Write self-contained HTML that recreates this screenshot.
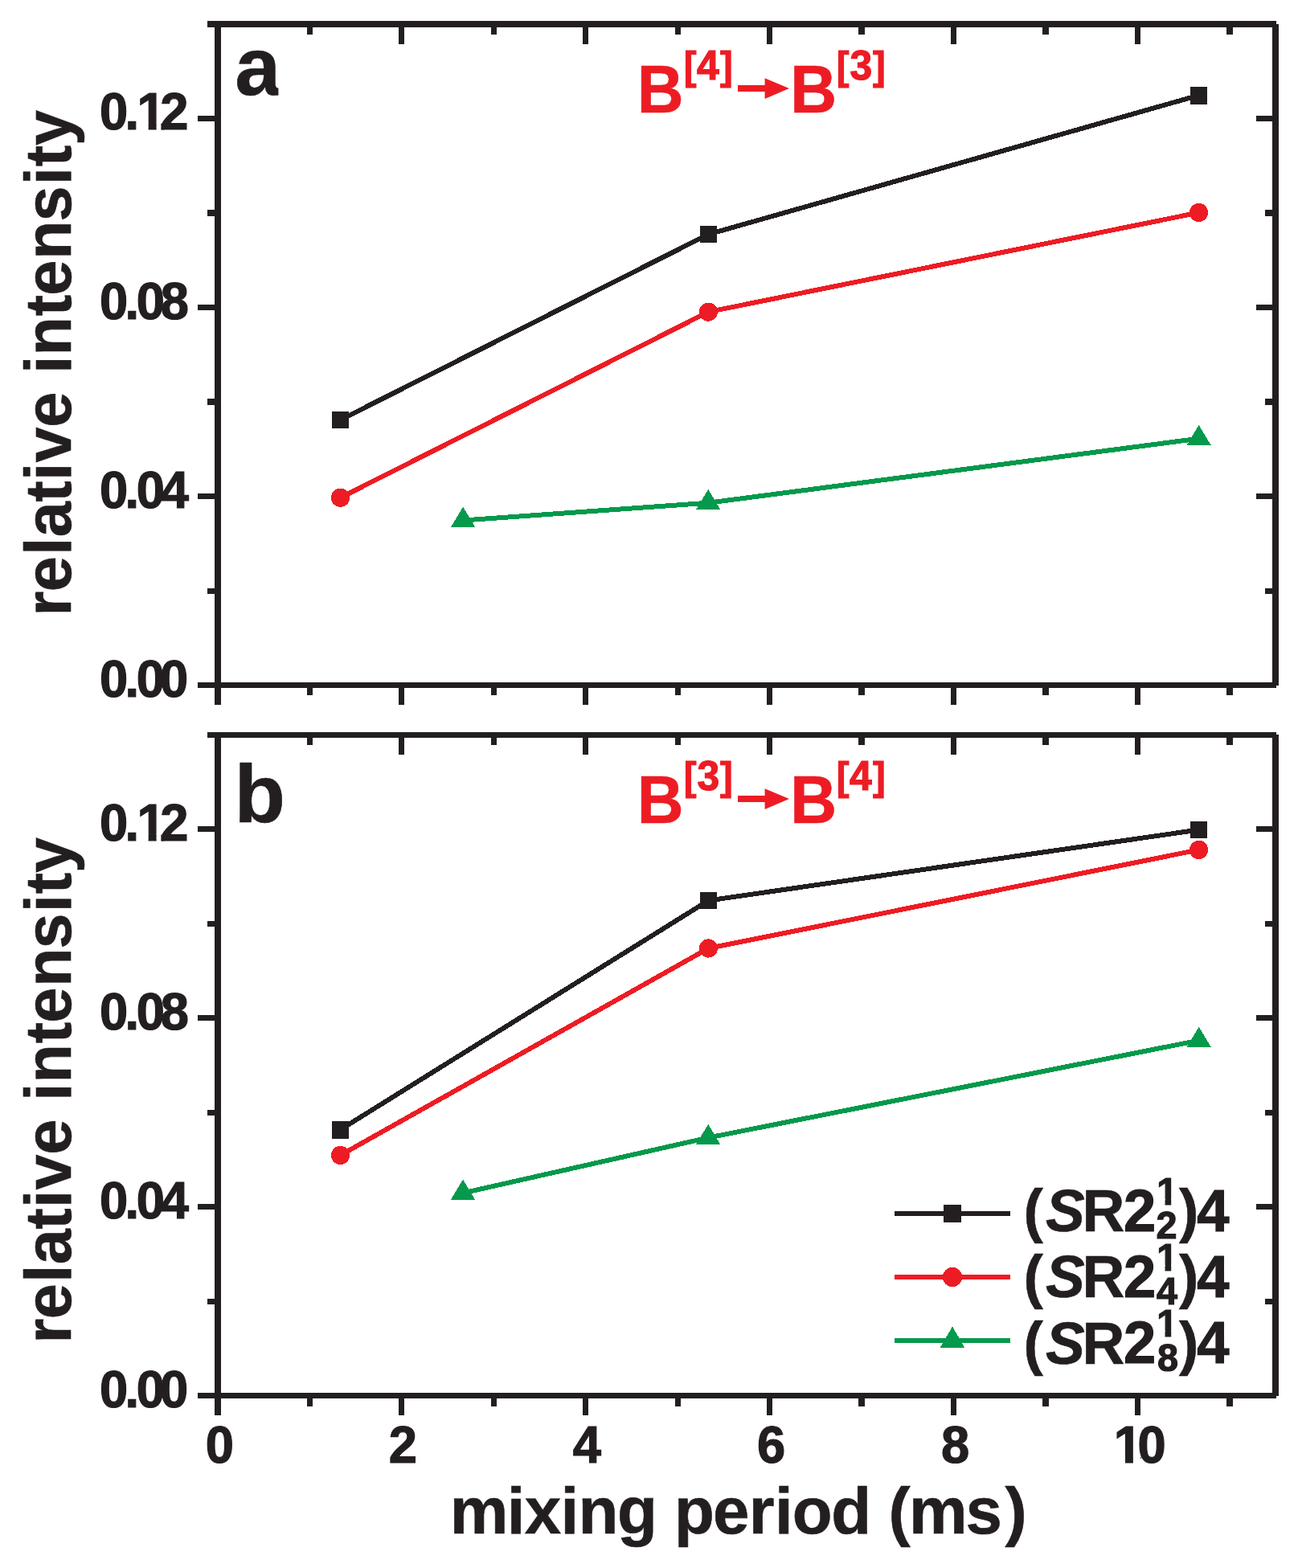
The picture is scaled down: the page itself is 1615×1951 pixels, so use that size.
<!DOCTYPE html>
<html lang="en">
<head>
<meta charset="utf-8">
<title>Relative intensity vs mixing period</title>
<style>
html,body{margin:0;padding:0;background:#fff}
body{width:1615px;height:1951px;overflow:hidden}
svg{display:block}
text{font-family:"Liberation Sans",Arial,Helvetica,sans-serif;font-weight:bold}
</style>
</head>
<body>
<svg width="1615" height="1951" viewBox="0 0 1615 1951" fill="#231F20">
<defs>
<clipPath id="c1"><path clip-rule="evenodd" d="M-3000 -3000H3000V3000H-3000ZM172.4 -8.86H184.69V1.5H172.4ZM194.57 -8.86H200.4V1.5H194.57Z"/></clipPath>
<clipPath id="c2"><path clip-rule="evenodd" d="M-3000 -3000H3000V3000H-3000ZM1418.9 -6.64L1420 -5.37L1420 2.34L1418.9 2.34ZM1387.7 -8.86H1399.99V1.5H1387.7ZM1409.87 -8.86H1418.9V1.5H1409.87Z"/></clipPath>
<clipPath id="c3"><path clip-rule="evenodd" d="M-3000 -3000H3000V3000H-3000ZM1440.1 -39.89H1449.57V-31.21H1440.1ZM1457.19 -39.89H1466.07V-31.21H1457.19Z"/></clipPath>
<clipPath id="r1"><rect x="290" y="58" width="56.4" height="66"/></clipPath>
<clipPath id="r2"><rect x="918" y="80.5" width="67" height="60"/></clipPath>
<clipPath id="r3"><rect x="918" y="964.5" width="67" height="60"/></clipPath>
</defs>
<rect width="1615" height="1951" fill="#fff"/>
<g id="panel-a">
<g id="series-a-sq" fill="#231F20" shape-rendering="crispEdges">
<polyline points="423.5,522.5 881.5,291.5 1491.5,118.6" fill="none" stroke="#231F20" stroke-width="6" stroke-linejoin="round"/>
<rect x="413" y="512" width="21" height="21"/>
<rect x="871" y="281" width="21" height="21"/>
<rect x="1481" y="108" width="21" height="22"/>
</g>
<g id="series-a-ci" fill="#ED1C24" shape-rendering="crispEdges">
<polyline points="423.5,619.3 881.4,388.1 1491.6,264.5" fill="none" stroke="#ED1C24" stroke-width="6" stroke-linejoin="round"/>
<circle cx="423.5" cy="619.3" r="11.6"/>
<circle cx="881.4" cy="388.1" r="11.6"/>
<circle cx="1491.6" cy="264.5" r="11.6"/>
</g>
<g id="series-a-tr" fill="#04994C" shape-rendering="crispEdges">
<polyline points="576.1,647.5 881.2,625.7 1491.7,545.7" fill="none" stroke="#04994C" stroke-width="6" stroke-linejoin="round"/>
<polygon points="576.1,630.63 591.3,655.93 560.9,655.93"/>
<polygon points="881.2,608.83 896.4,634.13 866,634.13"/>
<polygon points="1491.7,528.83 1506.9,554.13 1476.5,554.13"/>
</g>
<g id="axes-a" fill="#231F20" shape-rendering="crispEdges">
<rect x="258" y="26" width="1330" height="8"/>
<rect x="246" y="849" width="1342" height="7"/>
<rect x="267" y="26" width="8" height="851"/>
<rect x="1583" y="30" width="8" height="823"/>
<rect x="258" y="732" width="9" height="7"/>
<rect x="1574" y="732" width="9" height="7"/>
<rect x="246" y="614" width="21" height="7"/>
<rect x="1563" y="614" width="20" height="7"/>
<rect x="258" y="496" width="9" height="8"/>
<rect x="1574" y="496" width="9" height="8"/>
<rect x="246" y="379" width="21" height="7"/>
<rect x="1563" y="379" width="20" height="7"/>
<rect x="258" y="261" width="9" height="8"/>
<rect x="1574" y="261" width="9" height="8"/>
<rect x="246" y="144" width="21" height="7"/>
<rect x="1563" y="144" width="20" height="7"/>
<rect x="382" y="34" width="7" height="9"/>
<rect x="382" y="856" width="7" height="9"/>
<rect x="496" y="34" width="7" height="21"/>
<rect x="496" y="856" width="7" height="21"/>
<rect x="611" y="34" width="7" height="9"/>
<rect x="611" y="856" width="7" height="9"/>
<rect x="725" y="34" width="7" height="21"/>
<rect x="725" y="856" width="7" height="21"/>
<rect x="840" y="34" width="7" height="9"/>
<rect x="840" y="856" width="7" height="9"/>
<rect x="954" y="34" width="7" height="21"/>
<rect x="954" y="856" width="7" height="21"/>
<rect x="1068" y="34" width="8" height="9"/>
<rect x="1068" y="856" width="8" height="9"/>
<rect x="1183" y="34" width="7" height="21"/>
<rect x="1183" y="856" width="7" height="21"/>
<rect x="1297" y="34" width="8" height="9"/>
<rect x="1297" y="856" width="8" height="9"/>
<rect x="1412" y="34" width="7" height="21"/>
<rect x="1412" y="856" width="7" height="21"/>
<rect x="1526" y="34" width="8" height="9"/>
<rect x="1526" y="856" width="8" height="9"/>
</g>
<g id="yticks-a">
<text transform="translate(0 162) scale(1 1.024)" x="124.1 155.5 170.51 199.21" y="-0.6" font-size="63.3" stroke="#231F20" stroke-width="1.2" clip-path="url(#c1)">0.12</text>
<text transform="translate(0 397.7) scale(1 1.024)" x="124.1 155.5 169.8 199.69" y="-0.6" font-size="63.3" stroke="#231F20" stroke-width="1.2">0.08</text>
<text transform="translate(0 632.8) scale(1 1.024)" x="124.1 155.5 169.8 199.74" y="-0.6" font-size="63.3" stroke="#231F20" stroke-width="1.2">0.04</text>
<text transform="translate(0 867.9) scale(1 1.024)" x="124.1 155.5 169.8 199" y="-0.6" font-size="63.3" stroke="#231F20" stroke-width="1.2">0.00</text>
</g>
<text transform="translate(87.9 0) rotate(-90) scale(1 1.02)" x="-766.62 -736.19 -690.73 -668.32 -624.67 -598.03 -575.61 -531.79 -487.76 -464.83 -442.52 -393.27 -367.79 -322.82 -275.48 -230.23 -207.37 -181.02" y="-0.3" font-size="79.18" stroke="#231F20" stroke-width="0.6">relative intensity</text>
<g clip-path="url(#r1)"><text transform="translate(292.3 117.71) scale(1.0240 1.0112)" font-size="100" stroke="#231F20" stroke-width="0.59">a</text></g>
<g id="title-a" fill="#ED1C24">
<text transform="translate(0 140) scale(1 1.041)" fill="#ED1C24"><tspan x="792.84" y="-0.3" font-size="80.2" stroke="#ED1C24" stroke-width="0.6">B</tspan><tspan x="850.83" y="-39.6" font-size="47.47" stroke="#ED1C24" stroke-width="1">[</tspan><tspan x="866.95" y="-39.7" font-size="49.82" stroke="#ED1C24" stroke-width="1.2">4</tspan><tspan x="895.92" y="-39.6" font-size="47.47" stroke="#ED1C24" stroke-width="1">]</tspan></text>
<g clip-path="url(#r2)"><text transform="translate(905.58 122.2) scale(0.4419 0.1867)" style="font-family:'DejaVu Sans',sans-serif" font-size="200" stroke="#ED1C24" stroke-width="21.37" stroke-linejoin="miter">➞</text></g>
<text transform="translate(0 140) scale(1 1.041)" fill="#ED1C24"><tspan x="983.14" y="-0.3" font-size="80.2" stroke="#ED1C24" stroke-width="0.6">B</tspan><tspan x="1040.83" y="-39.6" font-size="47.47" stroke="#ED1C24" stroke-width="1">[</tspan><tspan x="1057.46" y="-39.7" font-size="49.82" stroke="#ED1C24" stroke-width="1.2">3</tspan><tspan x="1086.12" y="-39.6" font-size="47.47" stroke="#ED1C24" stroke-width="1">]</tspan></text>
</g>
</g>
<g id="panel-b">
<g id="series-b-sq" fill="#231F20" shape-rendering="crispEdges">
<polyline points="423.5,1405.6 881.5,1120.5 1491.5,1032.5" fill="none" stroke="#231F20" stroke-width="6" stroke-linejoin="round"/>
<rect x="413" y="1395" width="21" height="22"/>
<rect x="871" y="1110" width="21" height="21"/>
<rect x="1481" y="1022" width="21" height="21"/>
</g>
<g id="series-b-ci" fill="#ED1C24" shape-rendering="crispEdges">
<polyline points="423.5,1437.4 881.4,1180 1491.6,1057.4" fill="none" stroke="#ED1C24" stroke-width="6" stroke-linejoin="round"/>
<circle cx="423.5" cy="1437.4" r="11.6"/>
<circle cx="881.4" cy="1180" r="11.6"/>
<circle cx="1491.6" cy="1057.4" r="11.6"/>
</g>
<g id="series-b-tr" fill="#04994C" shape-rendering="crispEdges">
<polyline points="576.1,1484.4 881.2,1415.6 1491.7,1294.6" fill="none" stroke="#04994C" stroke-width="6" stroke-linejoin="round"/>
<polygon points="576.1,1467.53 591.3,1492.83 560.9,1492.83"/>
<polygon points="881.2,1398.73 896.4,1424.03 866,1424.03"/>
<polygon points="1491.7,1277.73 1506.9,1303.03 1476.5,1303.03"/>
</g>
<g id="axes-b" fill="#231F20" shape-rendering="crispEdges">
<rect x="258" y="911" width="1330" height="7"/>
<rect x="246" y="1733" width="1342" height="7"/>
<rect x="267" y="911" width="8" height="850"/>
<rect x="1583" y="914" width="8" height="823"/>
<rect x="258" y="1616" width="9" height="7"/>
<rect x="1574" y="1616" width="9" height="7"/>
<rect x="246" y="1498" width="21" height="7"/>
<rect x="1563" y="1498" width="20" height="7"/>
<rect x="258" y="1381" width="9" height="7"/>
<rect x="1574" y="1381" width="9" height="7"/>
<rect x="246" y="1263" width="21" height="7"/>
<rect x="1563" y="1263" width="20" height="7"/>
<rect x="258" y="1146" width="9" height="7"/>
<rect x="1574" y="1146" width="9" height="7"/>
<rect x="246" y="1028" width="21" height="7"/>
<rect x="1563" y="1028" width="20" height="7"/>
<rect x="382" y="918" width="7" height="9"/>
<rect x="382" y="1740" width="7" height="10"/>
<rect x="496" y="918" width="7" height="21"/>
<rect x="496" y="1740" width="7" height="21"/>
<rect x="611" y="918" width="7" height="9"/>
<rect x="611" y="1740" width="7" height="10"/>
<rect x="725" y="918" width="7" height="21"/>
<rect x="725" y="1740" width="7" height="21"/>
<rect x="840" y="918" width="7" height="9"/>
<rect x="840" y="1740" width="7" height="10"/>
<rect x="954" y="918" width="7" height="21"/>
<rect x="954" y="1740" width="7" height="21"/>
<rect x="1068" y="918" width="8" height="9"/>
<rect x="1068" y="1740" width="8" height="10"/>
<rect x="1183" y="918" width="7" height="21"/>
<rect x="1183" y="1740" width="7" height="21"/>
<rect x="1297" y="918" width="8" height="9"/>
<rect x="1297" y="1740" width="8" height="10"/>
<rect x="1412" y="918" width="7" height="21"/>
<rect x="1412" y="1740" width="7" height="21"/>
<rect x="1526" y="918" width="8" height="9"/>
<rect x="1526" y="1740" width="8" height="10"/>
</g>
<g id="yticks-b">
<text transform="translate(0 1046.7) scale(1 1.024)" x="124.1 155.5 170.51 199.21" y="-0.6" font-size="63.3" stroke="#231F20" stroke-width="1.2" clip-path="url(#c1)">0.12</text>
<text transform="translate(0 1281.8) scale(1 1.024)" x="124.1 155.5 169.8 199.69" y="-0.6" font-size="63.3" stroke="#231F20" stroke-width="1.2">0.08</text>
<text transform="translate(0 1516.9) scale(1 1.024)" x="124.1 155.5 169.8 199.74" y="-0.6" font-size="63.3" stroke="#231F20" stroke-width="1.2">0.04</text>
<text transform="translate(0 1752) scale(1 1.024)" x="124.1 155.5 169.8 199" y="-0.6" font-size="63.3" stroke="#231F20" stroke-width="1.2">0.00</text>
</g>
<text transform="translate(87.9 0) rotate(-90) scale(1 1.02)" x="-1671.62 -1641.19 -1595.73 -1573.32 -1529.67 -1503.03 -1480.61 -1436.79 -1392.76 -1369.83 -1347.52 -1298.27 -1272.79 -1227.82 -1180.48 -1135.23 -1112.37 -1086.02" y="-0.3" font-size="79.18" stroke="#231F20" stroke-width="0.6">relative intensity</text>
<text transform="translate(291.45 1022.71) scale(1.0399 1.0131)" font-size="100" stroke="#231F20" stroke-width="0.58">b</text>
<g id="title-b" fill="#ED1C24">
<text transform="translate(0 1024) scale(1 1.041)" fill="#ED1C24"><tspan x="792.84" y="-0.3" font-size="80.2" stroke="#ED1C24" stroke-width="0.6">B</tspan><tspan x="850.83" y="-39.6" font-size="47.47" stroke="#ED1C24" stroke-width="1">[</tspan><tspan x="867.46" y="-39.7" font-size="49.82" stroke="#ED1C24" stroke-width="1.2">3</tspan><tspan x="895.92" y="-39.6" font-size="47.47" stroke="#ED1C24" stroke-width="1">]</tspan></text>
<g clip-path="url(#r3)"><text transform="translate(905.58 1006.2) scale(0.4419 0.1867)" style="font-family:'DejaVu Sans',sans-serif" font-size="200" stroke="#ED1C24" stroke-width="21.37" stroke-linejoin="miter">➞</text></g>
<text transform="translate(0 1024) scale(1 1.041)" fill="#ED1C24"><tspan x="983.14" y="-0.3" font-size="80.2" stroke="#ED1C24" stroke-width="0.6">B</tspan><tspan x="1040.83" y="-39.6" font-size="47.47" stroke="#ED1C24" stroke-width="1">[</tspan><tspan x="1056.95" y="-39.7" font-size="49.82" stroke="#ED1C24" stroke-width="1.2">4</tspan><tspan x="1086.12" y="-39.6" font-size="47.47" stroke="#ED1C24" stroke-width="1">]</tspan></text>
</g>
</g>
<g id="xticks">
<text transform="translate(0 1821.1) scale(1 1.024)" x="255.7" y="-0.6" font-size="63.3" stroke="#231F20" stroke-width="1.2">0</text>
<text transform="translate(0 1821.1) scale(1 1.024)" x="483.71" y="-0.6" font-size="63.3" stroke="#231F20" stroke-width="1.2">2</text>
<text transform="translate(0 1821.1) scale(1 1.024)" x="712.64" y="-0.6" font-size="63.3" stroke="#231F20" stroke-width="1.2">4</text>
<text transform="translate(0 1821.1) scale(1 1.024)" x="941.98" y="-0.6" font-size="63.3" stroke="#231F20" stroke-width="1.2">6</text>
<text transform="translate(0 1821.1) scale(1 1.024)" x="1171.09" y="-0.6" font-size="63.3" stroke="#231F20" stroke-width="1.2">8</text>
<text transform="translate(0 1821.1) scale(1 1.024)" x="1385.81 1415.4" y="-0.6" font-size="63.3" stroke="#231F20" stroke-width="1.2" clip-path="url(#c2)">10</text>
</g>
<text transform="translate(0 1908) scale(1 0.99)" x="559.82 630.7 652.64 697.4 719.62 768.05 817.93 838.92 887.11 931.82 964.1 985.81 1034.15 1084.03 1105.43 1131.02 1201.63 1250.42" y="-0.3" font-size="81.66" stroke="#231F20" stroke-width="0.6">mixing period (ms)</text>
<g id="legend">
<g fill="#231F20" shape-rendering="crispEdges">
<rect x="1113" y="1507" width="144" height="6" shape-rendering="crispEdges"/>
<rect x="1174" y="1499" width="22" height="22"/>
</g>
<text transform="translate(0 1532.5) scale(1 1.018)" clip-path="url(#c3)"><tspan x="1273.56" y="-0.3" font-size="73.18" stroke="#231F20" stroke-width="0.6">(</tspan><tspan x="1301.01" y="-0.3" font-size="73.18" font-style="italic" stroke="#231F20" stroke-width="0.6">S</tspan><tspan x="1346.5" y="-0.3" font-size="73.18" stroke="#231F20" stroke-width="0.6">R</tspan><tspan x="1398.09" y="-0.6" font-size="72.29" stroke="#231F20" stroke-width="1.2">2</tspan><tspan x="1439.25" y="-33.31" font-size="46.79" stroke="#231F20" stroke-width="1.2">1</tspan><tspan x="1438.58" y="8.73" font-size="46.79" stroke="#231F20" stroke-width="1.2">2</tspan><tspan x="1467.03" y="-0.3" font-size="73.18" stroke="#231F20" stroke-width="0.6">)</tspan><tspan x="1489.31" y="-0.6" font-size="72.29" stroke="#231F20" stroke-width="1.2">4</tspan></text>
<g fill="#ED1C24" shape-rendering="crispEdges">
<rect x="1113" y="1586" width="144" height="6" shape-rendering="crispEdges"/>
<circle cx="1185" cy="1589" r="12.1"/>
</g>
<text transform="translate(0 1614.7) scale(1 1.018)" clip-path="url(#c3)"><tspan x="1273.56" y="-0.3" font-size="73.18" stroke="#231F20" stroke-width="0.6">(</tspan><tspan x="1301.01" y="-0.3" font-size="73.18" font-style="italic" stroke="#231F20" stroke-width="0.6">S</tspan><tspan x="1346.5" y="-0.3" font-size="73.18" stroke="#231F20" stroke-width="0.6">R</tspan><tspan x="1398.09" y="-0.6" font-size="72.29" stroke="#231F20" stroke-width="1.2">2</tspan><tspan x="1439.25" y="-33.31" font-size="46.79" stroke="#231F20" stroke-width="1.2">1</tspan><tspan x="1438.89" y="8.24" font-size="46.79" stroke="#231F20" stroke-width="1.2">4</tspan><tspan x="1467.03" y="-0.3" font-size="73.18" stroke="#231F20" stroke-width="0.6">)</tspan><tspan x="1489.31" y="-0.6" font-size="72.29" stroke="#231F20" stroke-width="1.2">4</tspan></text>
<g fill="#04994C" shape-rendering="crispEdges">
<rect x="1113" y="1665" width="144" height="6" shape-rendering="crispEdges"/>
<polygon points="1185,1650.53 1200.2,1676.73 1169.8,1676.73"/>
</g>
<text transform="translate(0 1696.8) scale(1 1.018)" clip-path="url(#c3)"><tspan x="1273.56" y="-0.3" font-size="73.18" stroke="#231F20" stroke-width="0.6">(</tspan><tspan x="1301.01" y="-0.3" font-size="73.18" font-style="italic" stroke="#231F20" stroke-width="0.6">S</tspan><tspan x="1346.5" y="-0.3" font-size="73.18" stroke="#231F20" stroke-width="0.6">R</tspan><tspan x="1398.09" y="-0.6" font-size="72.29" stroke="#231F20" stroke-width="1.2">2</tspan><tspan x="1439.25" y="-33.31" font-size="46.79" stroke="#231F20" stroke-width="1.2">1</tspan><tspan x="1439.92" y="9.52" font-size="46.79" stroke="#231F20" stroke-width="1.2">8</tspan><tspan x="1467.03" y="-0.3" font-size="73.18" stroke="#231F20" stroke-width="0.6">)</tspan><tspan x="1489.31" y="-0.6" font-size="72.29" stroke="#231F20" stroke-width="1.2">4</tspan></text>
</g>
</svg>
</body>
</html>
